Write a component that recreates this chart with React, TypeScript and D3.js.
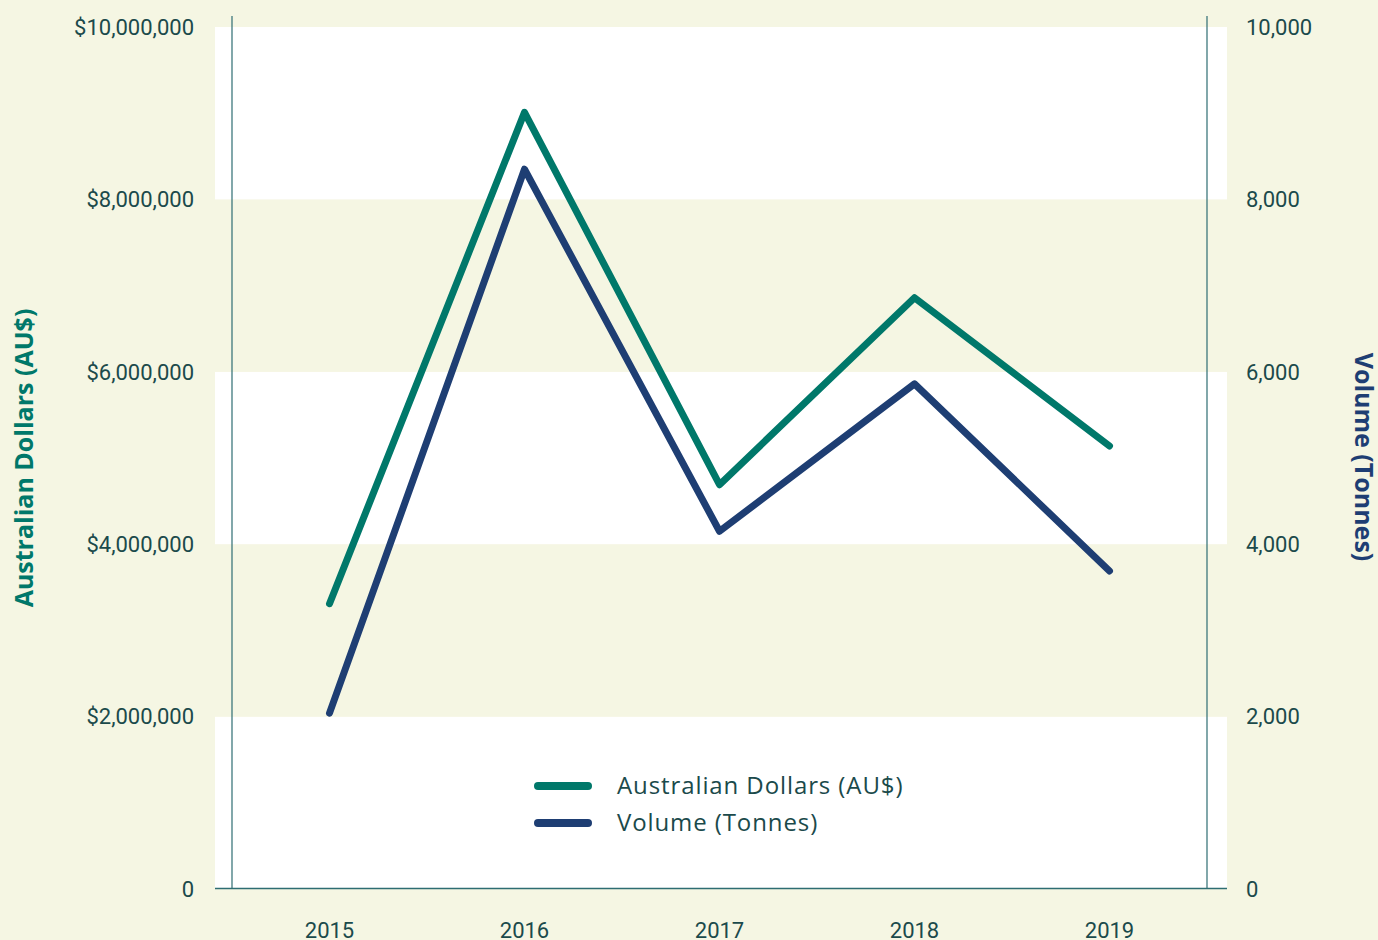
import {useEffect, useRef} from "react";
import * as d3 from "d3";

const W = 1378;
const H = 940;

const years = ["2015", "2016", "2017", "2018", "2019"];
const dollars = [3310000, 9010000, 4690000, 6860000, 5140000];
const volume = [2040, 8350, 4150, 5860, 3690];
const dollarTicks = [0, 2000000, 4000000, 6000000, 8000000, 10000000];
const volumeTicks = [0, 2000, 4000, 6000, 8000, 10000];

const BG = "#f5f6e3";
const TEAL = "#00786a";
const NAVY = "#1e3e73";
const INK = "#1b4a4b";
const RULE = "#2e6d72";

export default function App() {
    const svgRef = useRef<SVGSVGElement>(null);

    useEffect(() => {
        const svg = d3.select(svgRef.current);
        svg.selectAll("*").remove();

        const x = d3.scaleBand().domain(years).range([232, 1207]);
        const yL = d3.scaleLinear().domain([0, 10000000]).range([889, 27]);
        const yR = d3.scaleLinear().domain([0, 10000]).range([889, 27]);
        const cx = (d: string) => (x(d) as number) + x.bandwidth() / 2;

        svg.append("rect").attr("width", W).attr("height", H).attr("fill", BG);

        // alternating bands
        const bands = d3.pairs(dollarTicks);
        svg.append("g")
            .selectAll("rect")
            .data(bands)
            .join("rect")
            .attr("x", 215)
            .attr("width", 1227 - 215)
            .attr("y", (d) => yL(d[1]))
            .attr("height", (d) => yL(d[0]) - yL(d[1]))
            .attr("fill", (d, i) => (i % 2 === 0 ? "#ffffff" : BG));

        // frame lines
        svg.append("line").attr("x1", 232).attr("x2", 232).attr("y1", 16).attr("y2", 889)
            .attr("stroke", RULE).attr("stroke-width", 1.2);
        svg.append("line").attr("x1", 1207).attr("x2", 1207).attr("y1", 16).attr("y2", 889)
            .attr("stroke", RULE).attr("stroke-width", 1.2);
        svg.append("line").attr("x1", 215).attr("x2", 1227).attr("y1", 888.5).attr("y2", 888.5)
            .attr("stroke", RULE).attr("stroke-width", 1.5);

        const tickFont = "Roboto, sans-serif";
        const fmtL = (v: number) => (v === 0 ? "0" : "$" + d3.format(",")(v));

        svg.append("g")
            .selectAll("text")
            .data(dollarTicks)
            .join("text")
            .attr("x", 194)
            .attr("y", (d) => yL(d))
            .attr("dy", "0.35em")
            .attr("text-anchor", "end")
            .attr("font-family", tickFont)
            .attr("font-size", 22)
            .attr("fill", INK)
            .text(fmtL);

        svg.append("g")
            .selectAll("text")
            .data(volumeTicks)
            .join("text")
            .attr("x", 1246)
            .attr("y", (d) => yR(d))
            .attr("dy", "0.35em")
            .attr("font-family", tickFont)
            .attr("font-size", 22)
            .attr("fill", INK)
            .text((d) => d3.format(",")(d));

        svg.append("g")
            .selectAll("text")
            .data(years)
            .join("text")
            .attr("x", cx)
            .attr("y", 938)
            .attr("text-anchor", "middle")
            .attr("font-family", tickFont)
            .attr("font-size", 22)
            .attr("fill", INK)
            .text((d) => d);

        // axis titles
        svg.append("text")
            .attr("transform", `translate(33,458) rotate(-90)`)
            .attr("text-anchor", "middle")
            .attr("font-family", "'Open Sans', sans-serif")
            .attr("font-weight", 700)
            .attr("font-size", 25)
            .attr("fill", TEAL)
            .text("Australian Dollars (AU$)");

        svg.append("text")
            .attr("transform", `translate(1355,457) rotate(90)`)
            .attr("text-anchor", "middle")
            .attr("font-family", "'Open Sans', sans-serif")
            .attr("font-weight", 700)
            .attr("font-size", 25)
            .attr("fill", NAVY)
            .text("Volume (Tonnes)");

        // series
        const lineL = d3.line<number>().x((d, i) => cx(years[i])).y((d) => yL(d));
        const lineR = d3.line<number>().x((d, i) => cx(years[i])).y((d) => yR(d));

        svg.append("path")
            .attr("d", lineL(dollars))
            .attr("fill", "none")
            .attr("stroke", TEAL)
            .attr("stroke-width", 7)
            .attr("stroke-linecap", "round")
            .attr("stroke-linejoin", "round");

        svg.append("path")
            .attr("d", lineR(volume))
            .attr("fill", "none")
            .attr("stroke", NAVY)
            .attr("stroke-width", 7)
            .attr("stroke-linecap", "round")
            .attr("stroke-linejoin", "round");

        // legend
        const legend = [
            {label: "Australian Dollars (AU$)", color: TEAL},
            {label: "Volume (Tonnes)", color: NAVY},
        ];
        const lg = svg.append("g")
            .selectAll("g")
            .data(legend)
            .join("g")
            .attr("transform", (d, i) => `translate(538,${786 + i * 37})`);
        lg.append("line")
            .attr("x1", 0).attr("x2", 50)
            .attr("stroke", (d) => d.color)
            .attr("stroke-width", 8)
            .attr("stroke-linecap", "round");
        lg.append("text")
            .attr("x", 79)
            .attr("dy", "0.33em")
            .attr("font-family", "'Open Sans', sans-serif")
            .attr("font-size", 24)
            .attr("letter-spacing", 0.9)
            .attr("fill", INK)
            .text((d) => d.label);
    }, []);

    return (
        <svg ref={svgRef} width={W} height={H}
             style={{position: "absolute", left: 0, top: 0, display: "block"}} />
    );
}
